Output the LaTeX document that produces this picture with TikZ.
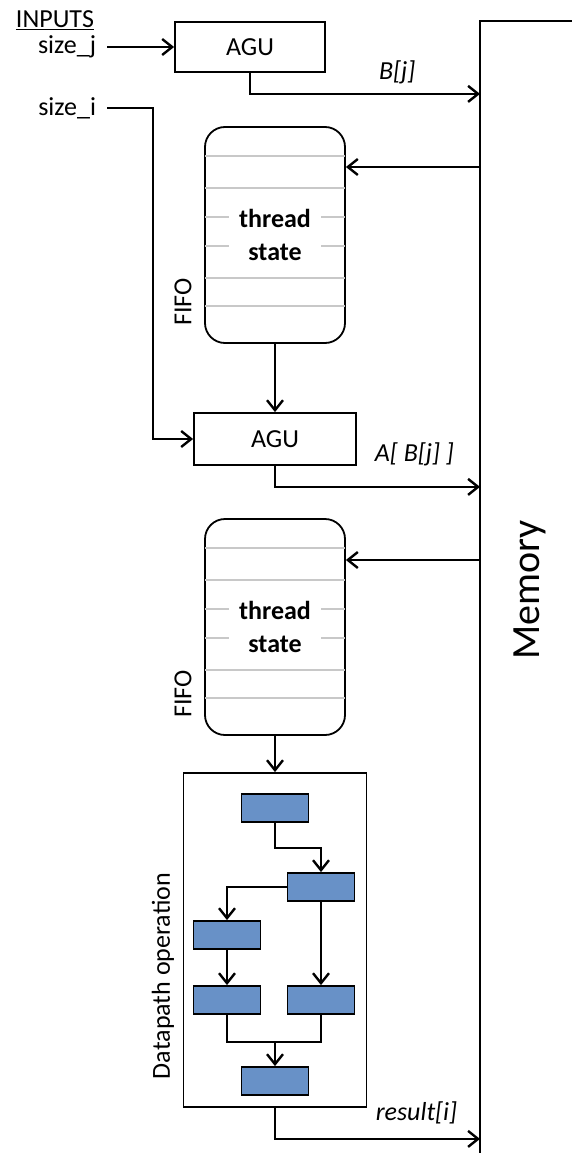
\documentclass[tikz,border=0pt]{standalone}
\usepackage{fontspec}
\setmainfont{Carlito}
\usetikzlibrary{arrows.meta,positioning,calc}
\definecolor{opblue}{RGB}{104,145,199}
\definecolor{rowgray}{RGB}{200,200,200}
\tikzstyle{agu} = [draw, rectangle, line width=1.8pt, inner sep=0pt,
    font=\fontsize{26}{31}\selectfont]
\tikzstyle{fifo} = [draw, rectangle, rounded corners=20pt, line width=1.8pt,
    minimum width=140pt, minimum height=216pt]
\tikzstyle{threadtext} = [fill=white, align=center, inner xsep=10pt, inner ysep=1pt,
    font=\fontsize{26}{33}\selectfont\bfseries]
\tikzstyle{rowline} = [draw=rowgray, line width=1.3pt, shorten <=0.9pt, shorten >=0.9pt]
\tikzstyle{opbox} = [draw, rectangle, fill=opblue, line width=1.8pt,
    minimum width=67pt, minimum height=28pt]
\tikzstyle{opframe} = [draw, rectangle, line width=1.8pt,
    minimum width=183pt, minimum height=334pt]
\tikzstyle{txt} = [font=\fontsize{26}{31}\selectfont, inner sep=1pt]
\tikzstyle{itxt} = [font=\fontsize{26}{31}\selectfont\itshape, inner sep=1pt]
\tikzstyle{memory} = [rectangle, minimum width=91pt, minimum height=1131pt]

\begin{document}
\begin{tikzpicture}[x=1pt, y=-1pt, line width=2pt,
    >={Straight Barb[length=10pt,width=16pt,line width=2.4pt]}]
    \useasboundingbox (0,0) rectangle (572,1153);
    % Memory runs down the right side, open towards the page edge
    \node [memory] (mem) at (526.5,587.5) {};
    \draw (mem.north east) -- (mem.north west) -- (mem.south west);
    \node [txt, rotate=90, font=\fontsize{40}{48}\selectfont] (memlabel) at (530,590) {Memory};
    % Inputs
    \node [txt, anchor=base west] (inputs) at (14,28) {\underline{INPUTS}};
    \node [txt, anchor=east] (sizej) at (98,47) {size\_j};
    \node [txt, anchor=east] (sizei) at (98,108) {size\_i};
    % Address generators
    \node [agu, minimum width=150pt, minimum height=50pt] (agu1) at (250,47) {AGU};
    \node [agu, minimum width=162pt, minimum height=52pt] (agu2) at (275,439) {AGU};
    % The two FIFOs holding the thread state
    \node [fifo] (fifo1) at (275,235) {};
    \node [fifo] (fifo2) at (275,627) {};
    \foreach \f in {fifo1,fifo2} {
        \foreach \dy in {30,62,91,120,152,180}
            \draw [rowline] ([yshift=-\dy pt]\f.north west) -- ([yshift=-\dy pt]\f.north east);
        \node [threadtext] (\f-text) at (\f.center) {thread\\state};
        \node [txt, rotate=90] (\f-label) at ([xshift=-21pt,yshift=42pt]\f.south west) {FIFO};
    }
    % Datapath operation with its small blocks
    \node [opframe] (dp) at (275,940) {};
    \node [txt, rotate=90] (dplabel) at (163,976) {Datapath operation};
    \node [opbox] (op1) at (275,808) {};
    \node [opbox] (op2) at (321,887) {};
    \node [opbox] (op3) at (227,935) {};
    \node [opbox] (op4) at (227,1000) {};
    \node [opbox] (op5) at (321,1000) {};
    \node [opbox] (op6) at (275,1081) {};
    % Connections
    \draw [->, shorten <=9pt] (sizej.east) -- (agu1.west);
    \draw [->, shorten <=9pt] (sizei.east) -- ++(55,0) |- (agu2.west);
    \draw [->] (agu1.south) -- ++(0,21) coordinate (bj)
        -- node [itxt, pos=0.64, above=8pt] (bjlabel) {B[j]} (bj -| mem.west);
    \path ([yshift=68pt]fifo1.east) coordinate (in1);
    \draw [->] (in1 -| mem.west) -- (in1);
    \draw [->] (fifo1.south) -- (agu2.north);
    \draw [->] (agu2.south) -- ++(0,21) coordinate (abj)
        -- node [itxt, pos=0.68, above=19pt] (abjlabel) {A[ B[j] ]} (abj -| mem.west);
    \path ([yshift=67pt]fifo2.east) coordinate (in2);
    \draw [->] (in2 -| mem.west) -- (in2);
    \draw [->] (fifo2.south) -- (dp.north);
    \draw [->] (op1.south) -- ++(0,25) -| (op2.north);
    \draw [->] (op2.west) -| (op3.north);
    \draw [->] (op3.south) -- (op4.north);
    \draw [->] (op2.south) -- (op5.north);
    \draw (op4.south) -- ++(0,27) coordinate (merge) -| (op5.south);
    \draw [->] (merge -| op6.north) -- (op6.north);
    \draw [->] (dp.south) -- ++(0,31) coordinate (res)
        -- node [itxt, pos=0.69, above=13pt] (reslabel) {result[i]} (res -| mem.west);
\end{tikzpicture}
\end{document}
